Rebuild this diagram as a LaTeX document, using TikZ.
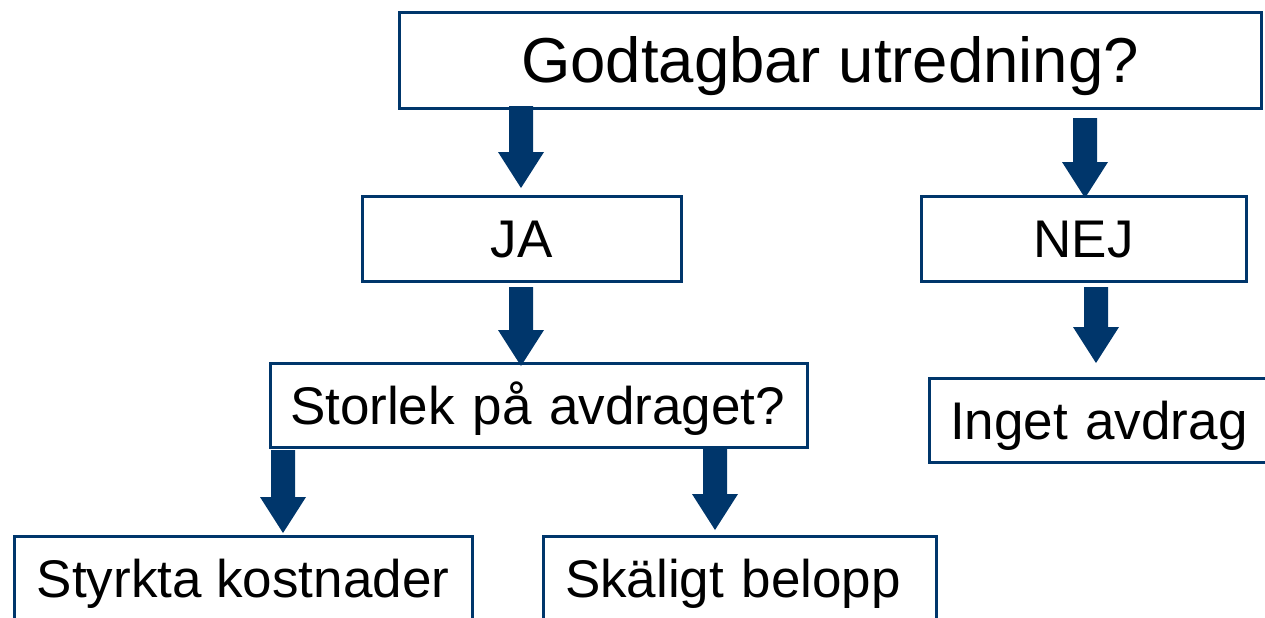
\documentclass[tikz,border=0pt]{standalone}
\usepackage{fontspec}
\setmainfont{Liberation Sans}
\usetikzlibrary{calc}
\definecolor{arrowblue}{RGB}{0,54,107}
\tikzset{
  box/.style={draw=arrowblue, line width=1.5pt, fill=white, outer sep=0pt,
    inner sep=0pt, text height=19pt, text depth=0pt,
    font=\fontsize{26.5}{30}\selectfont},
  leftbox/.style={box, align=left, inner xsep=#1},
}
% block arrow: from node, to node, x column, shift of top, shift of tip
\newcommand{\flowarrow}[5]{%
  \path (#3,0 |- #1.south) ++(0,#4) coordinate (top)
        (#3,0 |- #2.north) ++(0,#5) coordinate (tip);
  \fill[arrowblue] (tip) -- ($(tip)+(-23,-36)$) -- ($(tip)+(-12,-36)$)
    -- ($(top)+(-12,0)$) -- ($(top)+(12,0)$) -- ($(tip)+(12,-36)$)
    -- ($(tip)+(23,-36)$) -- cycle;
}
\begin{document}
\begin{tikzpicture}[x=0.5pt, y=-0.5pt]
    \useasboundingbox (0,0) rectangle (1265,617);

    \node[box, minimum width=431pt, minimum height=48pt, text height=22.7pt,
      font=\fontsize{31.75}{36}\selectfont] (q) at (830,60) {Godtagbar utredning?};
    \node[box, minimum width=159.5pt, minimum height=42.5pt] (ja) at (521.5,238.5) {JA};
    \node[box, minimum width=162.5pt, minimum height=42.5pt] (nej) at (1083.5,238.5) {NEJ};
    \node[leftbox=10pt, text width=248.5pt, minimum height=42pt] (size) at (538.5,405) {Storlek på avdraget?};
    \node[leftbox=10.5pt, text width=149.5pt, minimum height=42pt] (inget) at (1099.5,420) {Inget avdrag};
    \node[box, minimum width=229pt, minimum height=42pt] (styrkta) at (243,578) {Styrkta kostnader};
    \node[leftbox=11pt, text width=174.5pt, minimum height=42pt] (skal) at (739.5,578) {Skäligt belopp};

    \flowarrow{q}{ja}{521}{-2}{-8}
    \flowarrow{q}{nej}{1085}{10}{2}
    \flowarrow{ja}{size}{521}{6}{3}
    \flowarrow{nej}{inget}{1096}{6}{-15}
    \flowarrow{size}{styrkta}{283}{3}{-3}
    \flowarrow{size}{skal}{715}{0}{-6}
\end{tikzpicture}
\end{document}
